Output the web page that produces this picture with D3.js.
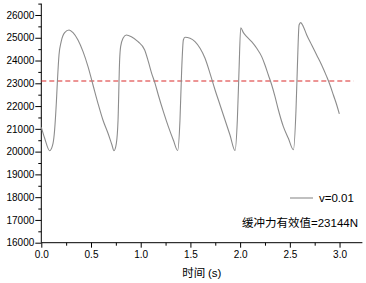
<!DOCTYPE html>
<html>
<head>
<meta charset="utf-8">
<script src="https://cdn.jsdelivr.net/npm/d3@7"></script>
<style>
  body { margin: 0; background: #fff; }
  svg text { font-family: "Liberation Sans", Arial, sans-serif; }
  .cjk { font-family: "Noto Sans CJK SC", "Liberation Sans", sans-serif; }
</style>
</head>
<body>
<div id="chart"></div>
<script>
// time (s) and buffer force (N)
const time = [0, 0.034, 0.084, 0.118, 0.134, 0.151, 0.161, 0.178, 0.2, 0.235, 0.279, 0.319, 0.369, 0.42, 0.47, 0.52, 0.57, 0.62, 0.671, 0.711, 0.731,
  0.755, 0.772, 0.788, 0.798, 0.822, 0.855, 0.906, 0.973, 1.04, 1.077, 1.11, 1.144, 1.177, 1.228, 1.278, 1.328, 1.372,
  1.395, 1.412, 1.429, 1.446, 1.496, 1.546, 1.597, 1.647, 1.697, 1.748, 1.798, 1.848, 1.898, 1.949,
  1.972, 1.989, 2.006, 2.033, 2.066, 2.116, 2.167, 2.217, 2.25, 2.284, 2.318, 2.351, 2.385, 2.435, 2.485, 2.536,
  2.562, 2.576, 2.593, 2.609, 2.636, 2.67, 2.72, 2.77, 2.82, 2.871, 2.904, 2.938, 2.972, 2.998];
const force = [21070, 20585, 20040, 20365, 20950, 22120, 23000, 24244, 24830, 25225, 25342, 25225, 24903, 24390, 23731, 22926, 22122, 21389, 20804, 20291, 20040,
  20365, 21389, 24024, 24610, 24976, 25122, 25049, 24830, 24464, 23951, 23439, 23000, 22487, 21755, 21096, 20510, 20050,
  21389, 23585, 24903, 25020, 24976, 24830, 24537, 24098, 23439, 22707, 22048, 21389, 20730, 20050,
  21389, 23585, 25440, 25225, 25049, 24830, 24537, 24171, 23805, 23365, 22926, 22414, 21828, 21096, 20584, 20080,
  21828, 23731, 25561, 25664, 25488, 25122, 24683, 24244, 23805, 23292, 22926, 22487, 22048, 21653];
const effectiveValue = 23100;
const xTicks = [0, 0.5, 1.0, 1.5, 2.0, 2.5, 3.0];
const yTicks = [16000, 17000, 18000, 19000, 20000, 21000, 22000, 23000, 24000, 25000, 26000];

const W = 366, H = 283;
const plotLeft = 41.3, plotRight = 362.4, plotTop = 3.6, plotBottom = 242.7;

const svg = d3.select("#chart").append("svg")
  .attr("width", W).attr("height", H);

const x = d3.scaleLinear().domain([0, 3.23]).range([plotLeft, plotRight]);
const y = d3.scaleLinear().domain([16000, 26500]).range([plotBottom, plotTop]);

// x axis
const xAxis = svg.append("g")
  .attr("transform", `translate(0,${plotBottom})`)
  .call(d3.axisBottom(x).tickValues(d3.range(0, 3.23, 0.25)).tickSize(5)
    .tickFormat(d => xTicks.includes(d) ? d3.format(".1f")(d) : ""));
xAxis.selectAll(".tick line").attr("y2", (d, i) => i % 2 ? 3 : 5);
xAxis.selectAll(".tick text").attr("font-size", 10).attr("y", 8).attr("fill", "#000")
  .style("font-family", "Liberation Sans, Arial, sans-serif");
xAxis.select(".domain").attr("d", `M${plotLeft},0H${plotRight}`);

// y axis
const yAxis = svg.append("g")
  .attr("transform", `translate(${plotLeft},0)`)
  .call(d3.axisLeft(y).tickValues(d3.range(16000, 26501, 500)).tickSize(6)
    .tickFormat(d => yTicks.includes(d) ? d : ""));
yAxis.selectAll(".tick line").attr("x2", (d, i) => i % 2 ? -3 : -6);
yAxis.selectAll(".tick text").attr("font-size", 10).attr("x", -7).attr("fill", "#000")
  .style("font-family", "Liberation Sans, Arial, sans-serif");
yAxis.select(".domain").attr("d", `M0,${plotBottom}V${plotTop}`);
svg.selectAll(".domain, .tick line").attr("stroke", "#000").attr("stroke-width", 1);

// effective value line
svg.append("line")
  .attr("x1", x(0)).attr("x2", x(3.14))
  .attr("y1", y(effectiveValue)).attr("y2", y(effectiveValue))
  .attr("stroke", "#d92b2b").attr("stroke-width", 1.2)
  .attr("stroke-dasharray", "5,3");

// force curve
const pts = time.map((t, i) => ({ t: t, f: force[i] }));
svg.append("path")
  .datum(pts)
  .attr("fill", "none")
  .attr("stroke", "#8c8c8c")
  .attr("stroke-width", 1.1)
  .attr("d", d3.line().x(d => x(d.t)).y(d => y(d.f)).curve(d3.curveMonotoneX));

// legend
svg.append("line")
  .attr("x1", 290).attr("x2", 313).attr("y1", 198).attr("y2", 198)
  .attr("stroke", "#8c8c8c").attr("stroke-width", 1.1);
svg.append("text")
  .attr("x", 319).attr("y", 202)
  .attr("font-size", 11.5)
  .text("v=0.01");
const note = svg.append("text")
  .attr("x", 358).attr("y", 227)
  .attr("text-anchor", "end")
  .attr("font-size", 11.5);
note.append("tspan").attr("class", "cjk").text("缓冲力有效值");
note.append("tspan").text("=23144N");

// axis title
const xTitle = svg.append("text")
  .attr("x", (plotLeft + plotRight) / 2).attr("y", 277)
  .attr("text-anchor", "middle")
  .attr("font-size", 11.5);
xTitle.append("tspan").attr("class", "cjk").text("时间 ");
xTitle.append("tspan").text("(s)");
</script>
</body>
</html>
